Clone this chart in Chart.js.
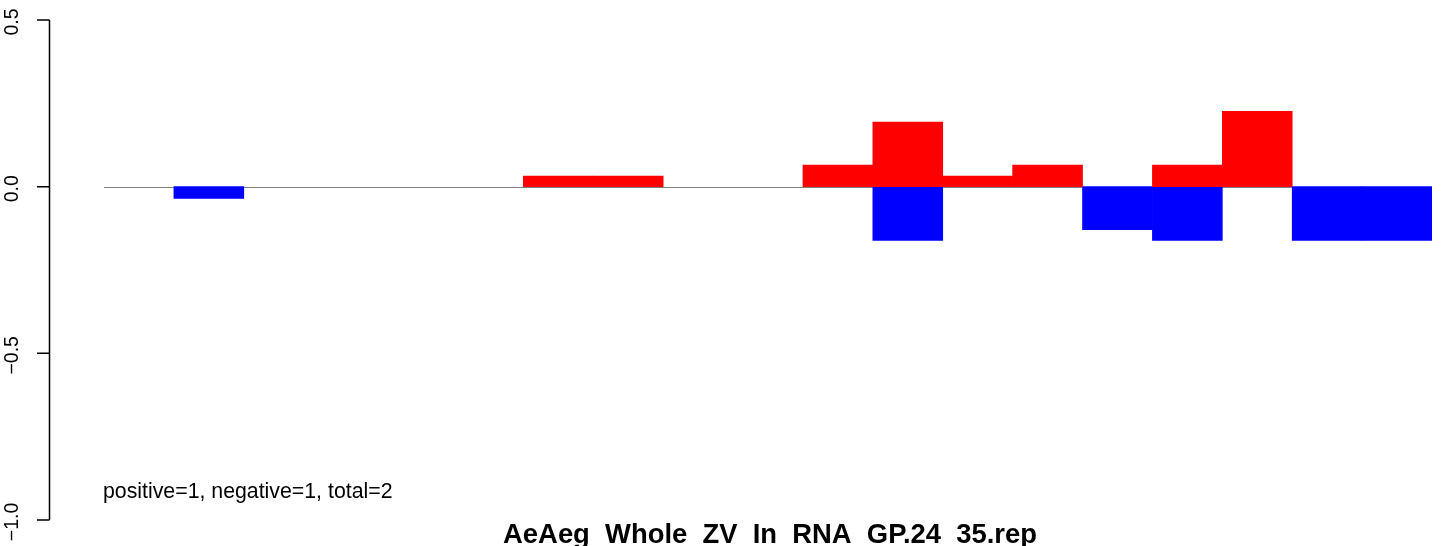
<!DOCTYPE html>
<html>
<head>
<meta charset="utf-8">
<script src="https://cdn.jsdelivr.net/npm/chart.js@4/dist/chart.umd.min.js"></script>
<style>
html,body{margin:0;padding:0;background:#fff;overflow:hidden;}
canvas{display:block;}
</style>
</head>
<body>
<canvas id="c" width="1449" height="546"></canvas>
<script>
// ---- data ----
const bins = ["1","2","3","4","5","6","7","8","9","10","11","12","13","14","15","16","17","18","19"];
const posVals = [null, null, null, null, null, null, 0.032, 0.032, null, null, 0.065, 0.194, 0.032, 0.065, null, 0.065, 0.226, null, null];
const negVals = [null, -0.035, null, null, null, null, null, null, null, null, null, -0.161, null, null, -0.129, -0.161, null, -0.161, -0.161];
const yTicks = [-1.0, -0.5, 0.0, 0.5];
const yTickLabels = ["\u22121.0", "\u22120.5", "0.0", "0.5"];
const yMin = -1.0, yMax = 0.5;
const noteText = "positive=1, negative=1, total=2";
const titleText = "AeAeg_Whole_ZV_In_RNA_GP.24_35.rep";

const FONT = '"Liberation Sans", Arial, Helvetica, sans-serif';

const decor = {
  id: 'decor',
  beforeDatasetsDraw(chart) {
    const ctx = chart.ctx, a = chart.chartArea, y = chart.scales.y;
    const y0 = Math.round(y.getPixelForValue(0)) + 0.5;
    ctx.save();
    ctx.strokeStyle = '#808080';
    ctx.lineWidth = 1;
    ctx.beginPath();
    ctx.moveTo(a.left, y0);
    ctx.lineTo(a.right, y0);
    ctx.stroke();
    ctx.restore();
  },
  afterDraw(chart) {
    const ctx = chart.ctx, a = chart.chartArea, y = chart.scales.y;
    ctx.save();
    // y axis
    const axX = 49.5;
    ctx.strokeStyle = '#000';
    ctx.lineWidth = 1.5;
    ctx.beginPath();
    ctx.moveTo(axX, y.getPixelForValue(yTicks[0]));
    ctx.lineTo(axX, y.getPixelForValue(yTicks[yTicks.length - 1]));
    yTicks.forEach(v => {
      const py = y.getPixelForValue(v);
      ctx.moveTo(axX, py);
      ctx.lineTo(37, py);
    });
    ctx.stroke();
    // tick labels rotated
    ctx.fillStyle = '#000';
    ctx.font = '19.5px ' + FONT;
    ctx.textAlign = 'center';
    ctx.textBaseline = 'alphabetic';
    yTicks.forEach((v, i) => {
      const py = y.getPixelForValue(v) + 2;
      ctx.save();
      ctx.translate(18, py);
      ctx.rotate(-Math.PI / 2);
      ctx.fillText(yTickLabels[i], 0, 0);
      ctx.restore();
    });
    // note
    ctx.font = '21.3px ' + FONT;
    ctx.textAlign = 'left';
    ctx.fillText(noteText, 103, 498);
    // title: the underscores sit below the bottom edge in the original, so
    // only the word pieces are drawn, spaced by the underscore width
    ctx.font = 'bold 27.4px ' + FONT;
    ctx.textAlign = 'left';
    const fullW = ctx.measureText(titleText).width;
    const usW = ctx.measureText('_').width;
    let x = (a.left + a.right) / 2 + 2 - fullW / 2;
    titleText.split('_').forEach((part, i, arr) => {
      ctx.fillText(part, x, 543);
      x += ctx.measureText(part).width;
      if (i < arr.length - 1) x += usW;
    });
    ctx.restore();
  }
};

new Chart(document.getElementById('c'), {
  type: 'bar',
  data: {
    labels: bins,
    datasets: [
      { data: posVals, backgroundColor: '#FF0000', borderWidth: 0, barPercentage: 1, categoryPercentage: 1 },
      { data: negVals, backgroundColor: '#0000FF', borderWidth: 0, barPercentage: 1, categoryPercentage: 1 }
    ]
  },
  options: {
    responsive: false,
    devicePixelRatio: 1,
    animation: false,
    layout: { padding: { left: 104, right: 17, top: 20, bottom: 26 } },
    plugins: { legend: { display: false }, tooltip: { enabled: false }, title: { display: false } },
    scales: {
      x: { display: false, stacked: true, grid: { display: false } },
      y: { display: false, stacked: false, min: yMin, max: yMax, grid: { display: false } }
    }
  },
  plugins: [decor]
});
</script>
</body>
</html>
